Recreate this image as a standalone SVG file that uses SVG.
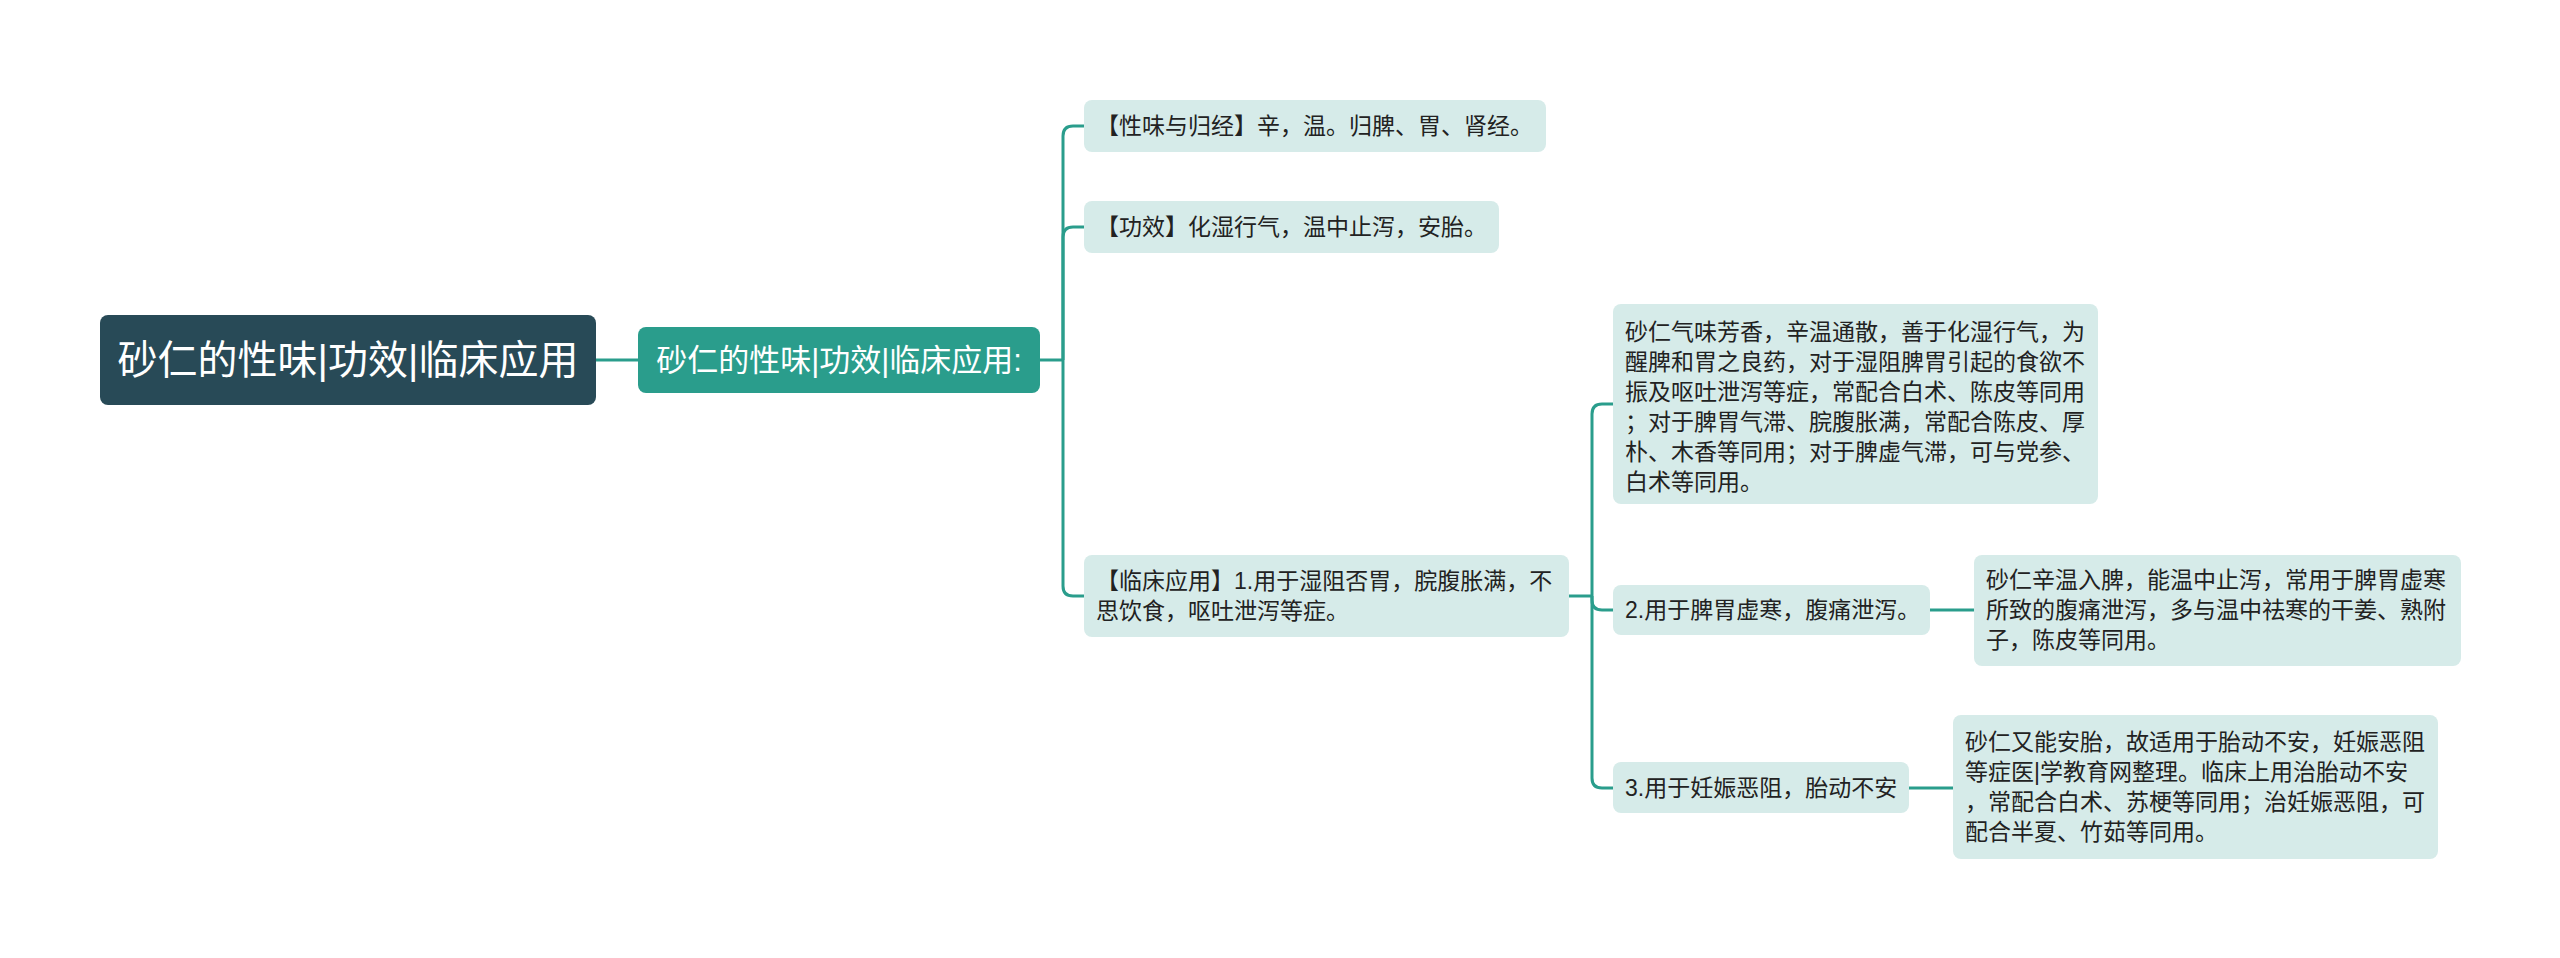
<svg xmlns="http://www.w3.org/2000/svg" width="2560" height="958" viewBox="0 0 2560 958">
<style>
text{font-family:"Liberation Sans","Noto Sans CJK SC",sans-serif;}
.leaf{fill:#d6ebe9;}
.lt{font-size:23px;fill:#222;}
.conn{fill:none;stroke:#2a9d8c;stroke-width:3;}
</style>
<rect width="2560" height="958" fill="#ffffff"/>
<g id="connectors">
<path class="conn" d="M596 360 H638"/>
<path class="conn" d="M1040 360 H1063"/>
<path class="conn" d="M1063 360 V136 Q1063 126 1073 126 H1084"/>
<path class="conn" d="M1063 360 V237 Q1063 227 1073 227 H1084"/>
<path class="conn" d="M1063 360 V586 Q1063 596 1073 596 H1084"/>
<path class="conn" d="M1569 596 H1592"/>
<path class="conn" d="M1592 596 V414 Q1592 404 1602 404 H1613"/>
<path class="conn" d="M1592 596 V600 Q1592 610 1602 610 H1613"/>
<path class="conn" d="M1592 596 V778 Q1592 788 1602 788 H1613"/>
<path class="conn" d="M1930 610 H1974"/>
<path class="conn" d="M1909 788 H1953"/>
</g>
<g id="root">
<rect x="100" y="315" width="496" height="90" rx="8" fill="#284a57"/>
<text x="348" y="374" font-size="40" fill="#ffffff" text-anchor="middle">砂仁的性味|功效|临床应用</text>
</g>
<g id="subroot">
<rect x="638" y="327" width="402" height="66" rx="8" fill="#2a9d8c"/>
<text x="839" y="371" font-size="31" fill="#ffffff" text-anchor="middle">砂仁的性味|功效|临床应用:</text>
</g>
<g id="n1">
<rect class="leaf" x="1084" y="100" width="462" height="52" rx="8"/>
<text class="lt" x="1096" y="134">【性味与归经】辛，温。归脾、胃、肾经。</text>
</g>
<g id="n2">
<rect class="leaf" x="1084" y="201" width="415" height="52" rx="8"/>
<text class="lt" x="1096" y="235">【功效】化湿行气，温中止泻，安胎。</text>
</g>
<g id="n3">
<rect class="leaf" x="1084" y="555" width="485" height="82" rx="8"/>
<text class="lt" x="1096" y="589">【临床应用】1.用于湿阻否胃，脘腹胀满，不</text>
<text class="lt" x="1096" y="619">思饮食，呕吐泄泻等症。</text>
</g>
<g id="m1">
<rect class="leaf" x="1613" y="304" width="485" height="200" rx="8"/>
<text class="lt" x="1625" y="340">砂仁气味芳香，辛温通散，善于化湿行气，为</text>
<text class="lt" x="1625" y="370">醒脾和胃之良药，对于湿阻脾胃引起的食欲不</text>
<text class="lt" x="1625" y="400">振及呕吐泄泻等症，常配合白术、陈皮等同用</text>
<text class="lt" x="1625" y="430">；对于脾胃气滞、脘腹胀满，常配合陈皮、厚</text>
<text class="lt" x="1625" y="460">朴、木香等同用；对于脾虚气滞，可与党参、</text>
<text class="lt" x="1625" y="490">白术等同用。</text>
</g>
<g id="m2">
<rect class="leaf" x="1613" y="585" width="317" height="50" rx="8"/>
<text class="lt" x="1625" y="618">2.用于脾胃虚寒，腹痛泄泻。</text>
</g>
<g id="p2">
<rect class="leaf" x="1974" y="555" width="487" height="111" rx="8"/>
<text class="lt" x="1986" y="588">砂仁辛温入脾，能温中止泻，常用于脾胃虚寒</text>
<text class="lt" x="1986" y="618">所致的腹痛泄泻，多与温中祛寒的干姜、熟附</text>
<text class="lt" x="1986" y="648">子，陈皮等同用。</text>
</g>
<g id="m3">
<rect class="leaf" x="1613" y="762" width="296" height="51" rx="8"/>
<text class="lt" x="1625" y="796">3.用于妊娠恶阻，胎动不安</text>
</g>
<g id="p3">
<rect class="leaf" x="1953" y="715" width="485" height="144" rx="8"/>
<text class="lt" x="1965" y="750">砂仁又能安胎，故适用于胎动不安，妊娠恶阻</text>
<text class="lt" x="1965" y="780">等症医|学教育网整理。临床上用治胎动不安</text>
<text class="lt" x="1965" y="810">，常配合白术、苏梗等同用；治妊娠恶阻，可</text>
<text class="lt" x="1965" y="840">配合半夏、竹茹等同用。</text>
</g>
</svg>
